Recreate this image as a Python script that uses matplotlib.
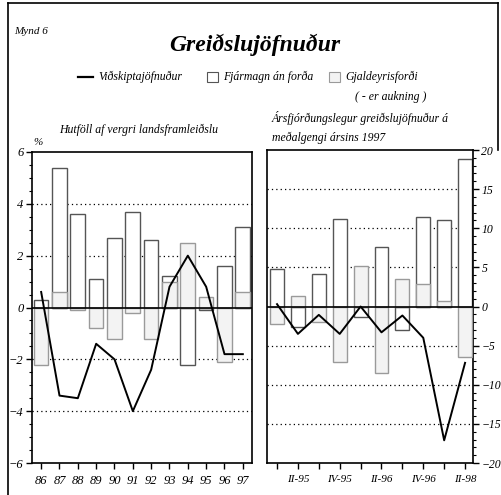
import numpy as np
import matplotlib.pyplot as plt
from matplotlib.lines import Line2D
from matplotlib.patches import Rectangle
from matplotlib.ticker import MultipleLocator

plt.rcParams['font.family'] = ['Liberation Serif', 'DejaVu Serif']
plt.rcParams['font.style'] = 'italic'

# annual data, % of GDP
years = ['86', '87', '88', '89', '90', '91', '92', '93', '94', '95', '96', '97']
capital_y = [0.3, 5.4, 3.6, 1.1, 2.7, 3.7, 2.6, 1.2, -2.2, -0.1, 1.6, 3.1]
reserves_y = [-2.2, 0.6, -0.1, -0.8, -1.2, -0.2, -1.2, 1.0, 2.5, 0.4, -2.1, 0.6]
current_y = [0.6, -3.4, -3.5, -1.4, -2.0, -4.0, -2.4, 0.8, 2.0, 0.8, -1.8, -1.8]

# quarterly data at 1997 average exchange rate
quarters = ['', 'II-95', '', 'IV-95', '', 'II-96', '', 'IV-96', '', 'II-98']
capital_q = [4.8, -2.56, 4.1, 11.2, -1.3, 7.6, -3.0, 11.5, 11.0, 18.9]
reserves_q = [-2.26, 1.4, -1.96, -7.1, 5.2, -8.45, 3.5, 2.9, 0.7, -6.5]
current_q = [0.3, -3.5, -1.07, -3.5, 0.0, -3.3, -1.15, -4.0, -17.1, -7.2]

WHITE_EDGE = '#555555'
GRAY_FILL = '#f3f3f3'
GRAY_EDGE = '#9a9a9a'

fig = plt.figure(figsize=(5.01, 4.95), dpi=100)
W, H = 501, 495

def ax_at(x0, y0, x1, y1):
    return fig.add_axes([x0 / W, 1 - y1 / H, (x1 - x0) / W, (y1 - y0) / H])

def draw_panel(ax, cap, res, cur, width):
    x = np.arange(len(cap))
    ax.bar(x, cap, width=width, color='white', edgecolor=WHITE_EDGE, lw=1, zorder=2)
    ax.bar(x, res, width=width, color=GRAY_FILL, edgecolor=GRAY_EDGE, lw=1, zorder=3)
    ax.axhline(0, color='black', lw=1.2, zorder=4)
    ax.plot(x, cur, color='black', lw=1.4, zorder=5)
    for s in ax.spines.values():
        s.set_linewidth(1.2)
    ax.tick_params(axis='both', direction='out', length=4, width=1, pad=2)
    ax.tick_params(axis='y', which='minor', length=2, width=0.8)
    ax.tick_params(axis='x', which='both', length=4, pad=5)
    return x

# left panel
axl = ax_at(32, 152, 252, 463)
x = draw_panel(axl, capital_y, reserves_y, current_y, 0.8)
axl.set_xlim(-0.5, 11.5)
axl.set_ylim(-6, 6)
axl.set_xticks(x)
axl.set_xticklabels(years, fontsize=9)
axl.set_yticks([-6, -4, -2, 0, 2, 4, 6])
axl.yaxis.set_minor_locator(MultipleLocator(0.5))
for g in [-4, -2, 2, 4]:
    axl.axhline(g, color='black', lw=0.9, ls=(0, (1, 2.5)), zorder=1)
axl.tick_params(axis='y', labelsize=9)

# right panel
axr = ax_at(267, 150, 473, 463)
x = draw_panel(axr, capital_q, reserves_q, current_q, 0.667)
axr.set_xlim(-0.48, 9.38)
axr.set_ylim(-20, 20)
axr.set_xticks(x)
axr.set_xticklabels(quarters, fontsize=8)
axr.set_yticks([-20, -15, -10, -5, 0, 5, 10, 15, 20])
axr.yaxis.set_minor_locator(MultipleLocator(1))
axr.yaxis.tick_right()
for g in [-15, -10, -5, 5, 10, 15]:
    axr.axhline(g, color='black', lw=0.9, ls=(0, (1, 2.5)), zorder=1)
axr.tick_params(axis='y', labelsize=8.5)

# texts
fig.text(14 / W, 1 - 32 / H, 'Mynd 6', fontsize=8, ha='left', va='center')
fig.text(255 / W, 1 - 45 / H, 'Greiðslujöfnuður', fontsize=17, fontweight='bold',
         ha='center', va='center')

ly = 1 - 77 / H
fig.add_artist(Line2D([78 / W, 93 / W], [ly, ly], color='black', lw=1.6))
fig.text(98 / W, ly, 'Viðskiptajöfnuður', fontsize=8.5, ha='left', va='center')
fig.add_artist(Rectangle((207 / W, ly - 5 / H), 11 / W, 10 / H, facecolor='white',
                         edgecolor=WHITE_EDGE, lw=0.8))
fig.text(223 / W, ly, 'Fjármagn án forða', fontsize=8.5, ha='left', va='center')
fig.add_artist(Rectangle((329 / W, ly - 5 / H), 11 / W, 10 / H, facecolor=GRAY_FILL,
                         edgecolor=GRAY_EDGE, lw=0.8))
fig.text(345 / W, ly, 'Gjaldeyrisforði', fontsize=8.5, ha='left', va='center')
fig.text(355 / W, 1 - 97 / H, '( - er aukning )', fontsize=8.5, ha='left', va='center')

fig.text(59 / W, 1 - 130 / H, 'Hutföll af vergri landsframleiðslu', fontsize=8.5,
         ha='left', va='center')
fig.text(33 / W, 1 - 142 / H, '%', fontsize=8, ha='left', va='center')
fig.text(272 / W, 1 - 118 / H, 'Ársfjórðungslegur greiðslujöfnuður á', fontsize=8.5,
         ha='left', va='center')
fig.text(272 / W, 1 - 138 / H, 'meðalgengi ársins 1997', fontsize=8.5,
         ha='left', va='center')

# outer frame
fig.add_artist(Line2D([8 / W, 8 / W], [0, 1 - 3 / H], color='black', lw=1.2))
fig.add_artist(Line2D([8 / W, 498 / W], [1 - 3 / H, 1 - 3 / H], color='black', lw=1.2))
fig.add_artist(Line2D([498 / W, 498 / W], [1 - 3 / H, 1 - 150 / H], color='black', lw=1.2))

fig.savefig('out.png', dpi=100)
